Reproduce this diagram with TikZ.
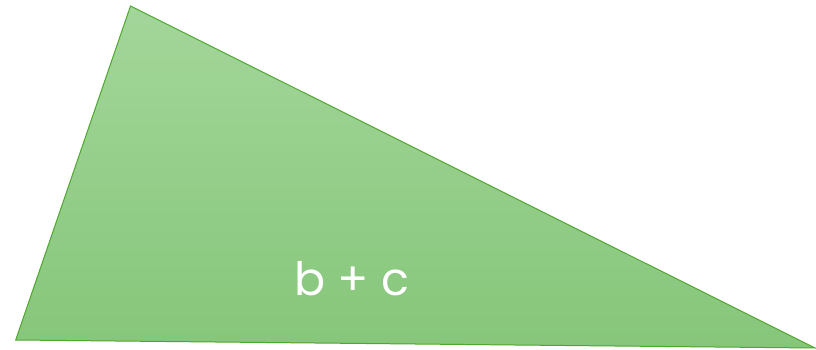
\documentclass[tikz,border=0pt]{standalone}
\usepackage{fontspec}
\setmainfont{Poppins}
\definecolor{topgreen}{HTML}{A3D69A}
\definecolor{botgreen}{HTML}{86C67A}
\definecolor{edgegreen}{HTML}{4EA72E}
\tikzset{tri/.style={draw=edgegreen, line width=1pt, top color=topgreen, bottom color=botgreen, line join=miter},
  lbl/.style={text=white, font=\fontsize{46}{55}\selectfont, inner sep=0pt}}
\begin{document}
\begin{tikzpicture}[x=1pt,y=-1pt]
\useasboundingbox (0,0) rectangle (816,350);
\coordinate (A) at (130.5,6);
\coordinate (B) at (15.7,340);
\coordinate (C) at (815,348);
\fill[white] (0,0) rectangle (816,350);
\path[tri] (A) -- (B) -- (C) -- cycle;
\node[lbl] (t) at (352,279) {b + c};
\end{tikzpicture}
\end{document}
